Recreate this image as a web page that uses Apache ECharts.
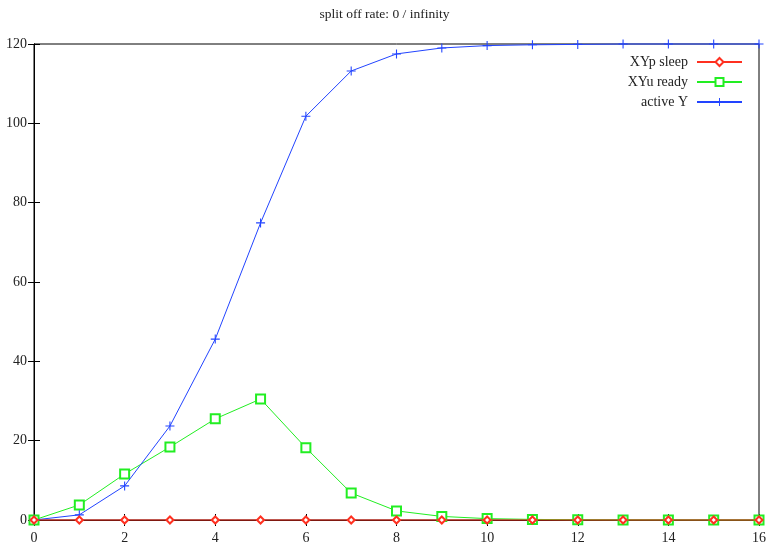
<!DOCTYPE html>
<html>
<head>
<meta charset="utf-8">
<script src="https://cdn.jsdelivr.net/npm/echarts@6/dist/echarts.min.js"></script>
<style>html,body{margin:0;padding:0;background:#fff;}#c{width:769px;height:548px;}</style>
</head>
<body>
<div id="c"></div>
<script>
const titleText = 'split off rate: 0 / infinity';
const xs = [0,1,2,3,4,5,6,7,8,9,10,11,12,13,14,15,16];
const sleepName = 'XYp sleep';
const readyName = 'XYu ready';
const activeName = 'active Y';
const sleepVals = [0,0,0,0,0,0,0,0,0,0,0,0,0,0,0,0,0];
const readyVals = [0,3.8,11.6,18.4,25.5,30.5,18.2,6.8,2.3,0.9,0.35,0.15,0.05,0.02,0.01,0,0];
const activeVals = [0,1.3,8.6,23.7,45.6,74.9,101.8,113.2,117.5,119.0,119.6,119.8,119.9,120,120,120,120];

const pairs = v => xs.map((x,i)=>[x,v[i]]);
const font = 'Liberation Serif';
const plusPath = 'path://M4.4,0H5.6V4.4H10V5.6H5.6V10H4.4V5.6H0V4.4H4.4Z';

const axisCommon = {
  type:'value', min:0, interval:2,
  axisLine:{show:true, lineStyle:{color:'#000', width:1}},
  axisTick:{show:true, inside:true, length:6, lineStyle:{color:'#000'}},
  splitLine:{show:false}
};
const chart = echarts.init(document.getElementById('c'));
chart.setOption({
  animation:false,
  backgroundColor:'#fff',
  title:{text:titleText, left:'center', top:2, textStyle:{fontFamily:font, fontSize:13.5, fontWeight:'normal', color:'#222'}},
  legend:{
    orient:'vertical', right:21, top:50, align:'right',
    itemWidth:45, itemHeight:10, itemGap:6,
    textStyle:{fontFamily:font, fontSize:14, lineHeight:14, color:'#222', padding:[0,4,0,0]},
    data:[sleepName, readyName, activeName]
  },
  grid:{left:34, right:8, top:44, bottom:28, show:true, borderColor:'#000', borderWidth:1},
  xAxis:[
    Object.assign({}, axisCommon, {max:16, position:'bottom',
      axisLabel:{fontFamily:font, fontSize:14, color:'#222', margin:11}}),
    Object.assign({}, axisCommon, {max:16, position:'top', axisLabel:{show:false}})
  ],
  yAxis:[
    Object.assign({}, axisCommon, {max:120, interval:20, position:'left',
      axisLabel:{fontFamily:font, fontSize:14, color:'#222', margin:7}}),
    Object.assign({}, axisCommon, {max:120, interval:20, position:'right', axisLabel:{show:false}})
  ],
  series:[
    {name:sleepName, type:'line', data:pairs(sleepVals), clip:false, z:5,
      symbol:'emptyDiamond', symbolSize:7,
      lineStyle:{color:'#ff3020', width:1}, itemStyle:{color:'#ff3020', borderWidth:1}},
    {name:readyName, type:'line', data:pairs(readyVals), clip:false, z:3,
      symbol:'emptyRect', symbolSize:9,
      lineStyle:{color:'#22ee22', width:1}, itemStyle:{color:'#22ee22', borderWidth:1}},
    {name:activeName, type:'line', data:pairs(activeVals), clip:false, z:4,
      symbol:plusPath, symbolSize:9,
      lineStyle:{color:'#2244ff', width:1}, itemStyle:{color:'#2244ff'}}
  ]
});
</script>
</body>
</html>
